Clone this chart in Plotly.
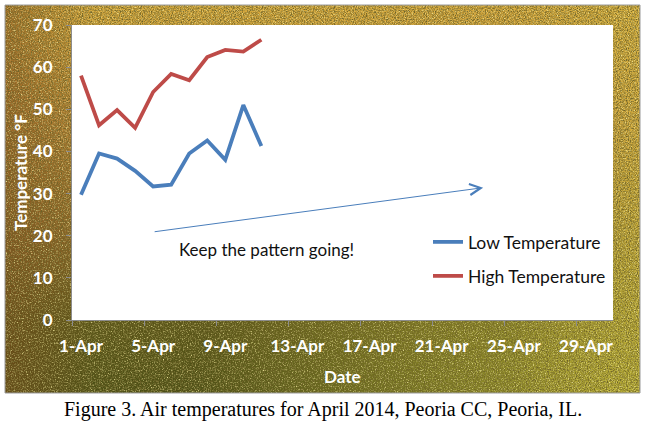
import base64
import plotly.graph_objects as go

# ── data ──────────────────────────────────────────────────────────
days = list(range(11))            # 0 = 1-Apr ... 10 = 11-Apr
low_temp = [29.7, 39.5, 38.3, 35.4, 31.7, 32.1, 39.5, 42.6, 38.0, 51.0, 41.3]
high_temp = [58.0, 46.2, 49.8, 45.6, 54.1, 58.4, 56.9, 62.4, 64.1, 63.7, 66.5]
tick_days = [0, 4, 8, 12, 16, 20, 24, 28]
tick_text = ["1-Apr", "5-Apr", "9-Apr", "13-Apr", "17-Apr", "21-Apr", "25-Apr", "29-Apr"]

BLUE = "#4a7ebb"
RED = "#be4b48"
GRAY = "#8c8c8c"
FONT = "Lato"

# ── grassy background as an svg picture ──────────────────────────
svg = """<svg xmlns='http://www.w3.org/2000/svg' width='636' height='388'>
<defs>
<linearGradient id='v' x1='0' y1='0' x2='0' y2='1'>
<stop offset='0' stop-color='#d8aa3c'/>
<stop offset='0.3' stop-color='#bc8a36'/>
<stop offset='0.6' stop-color='#8e6a28'/>
<stop offset='0.82' stop-color='#585416'/>
<stop offset='1' stop-color='#4a4e14'/>
</linearGradient>
<linearGradient id='lft' x1='0' y1='0' x2='1' y2='0'>
<stop offset='0' stop-color='#7a4418' stop-opacity='0.55'/>
<stop offset='0.14' stop-color='#7a4418' stop-opacity='0'/>
</linearGradient>
<linearGradient id='rgt' x1='0' y1='0' x2='1' y2='0'>
<stop offset='0.8' stop-color='#d8b23e' stop-opacity='0'/>
<stop offset='1' stop-color='#d8b23e' stop-opacity='0.85'/>
</linearGradient>
<radialGradient id='br' cx='1' cy='1' r='0.7'>
<stop offset='0' stop-color='#b8b034' stop-opacity='0.9'/>
<stop offset='1' stop-color='#b8b034' stop-opacity='0'/>
</radialGradient>
<filter id='n' x='0' y='0' width='100%' height='100%'>
<feTurbulence type='fractalNoise' baseFrequency='0.9' numOctaves='2' seed='4'/>
<feColorMatrix type='matrix' values='0 0 0 0 0.15  0 0 0 0 0.12  0 0 0 0 0.02  2.2 0 0 0 -0.8'/></filter>
<filter id='l' x='0' y='0' width='100%' height='100%'>
<feTurbulence type='fractalNoise' baseFrequency='0.75' numOctaves='2' seed='9'/>
<feColorMatrix type='matrix' values='0 0 0 0 0.92  0 0 0 0 0.85  0 0 0 0 0.35  0 2.2 0 0 -1.05'/></filter>
</defs>
<rect width='636' height='388' fill='url(#v)'/>
<rect width='636' height='388' fill='url(#lft)'/>
<rect width='636' height='388' fill='url(#rgt)'/>
<rect width='636' height='388' fill='url(#br)'/>
<rect width='636' height='388' filter='url(#l)'/>
<rect width='636' height='388' filter='url(#n)'/>
</svg>"""
bg_src = "data:image/svg+xml;base64," + base64.b64encode(svg.encode()).decode()

# plot area in pixels: x 72..613, y 25..320
L, R, T, B = 72, 613, 25, 320
W, H = R - L, B - T


def px(x):
    return (x - L) / W


def py(y):
    return (B - y) / H


fig = go.Figure()
fig.add_trace(go.Scatter(x=days, y=low_temp, mode="lines", name="Low Temperature",
                         line=dict(color=BLUE, width=3.8), legend="legend"))
fig.add_trace(go.Scatter(x=days, y=high_temp, mode="lines", name="High Temperature",
                         line=dict(color=RED, width=3.8), legend="legend2"))

leg_common = dict(font=dict(family=FONT, size=17.5, color="#111111"),
                  bgcolor="rgba(0,0,0,0)", xanchor="left", yanchor="middle",
                  itemwidth=30)

fig.update_layout(
    width=646, height=424,
    margin=dict(l=L, r=646 - R, t=T, b=424 - B),
    paper_bgcolor="white",
    plot_bgcolor="rgba(0,0,0,0)",
    showlegend=True,
    legend=dict(x=px(428), y=py(242), **leg_common),
    legend2=dict(x=px(428), y=py(276), **leg_common),
    xaxis=dict(range=[-0.5, 29.5], tickvals=tick_days, ticktext=tick_text,
               ticks="", showgrid=False, zeroline=False,
               showline=True, linecolor=GRAY, linewidth=1,
               tickfont=dict(family=FONT, size=17, color="white", weight="bold"),
               ticklabelstandoff=11,
               minor=dict(ticks="outside", tick0=-0.5, dtick=4, ticklen=5,
                          tickcolor=GRAY, showgrid=False)),
    yaxis=dict(range=[0, 70], dtick=10, ticks="outside", ticklen=5, tickcolor=GRAY,
               showgrid=False, zeroline=False,
               showline=True, linecolor=GRAY, linewidth=1,
               tickfont=dict(family=FONT, size=17, color="white", weight="bold"),
               ticklabelstandoff=10),
    images=[dict(source=bg_src, xref="paper", yref="paper",
                 x=px(5), y=py(5), sizex=(640 - 5) / W, sizey=(393 - 5) / H,
                 xanchor="left", yanchor="top", sizing="stretch", layer="below")],
    shapes=[
        dict(type="rect", xref="paper", yref="paper", x0=0, x1=1, y0=0, y1=1,
             fillcolor="white", line=dict(width=0), layer="below"),
        dict(type="rect", xref="paper", yref="paper", x0=px(5), x1=px(640),
             y0=py(393), y1=py(5), line=dict(color="#9a9a9a", width=1), layer="below"),
    ],
)

# axis titles, note, arrow, caption
fig.add_annotation(text="<b>Temperature °F</b>", xref="paper", yref="paper",
                   x=px(20), y=py(173), textangle=-90, showarrow=False,
                   xanchor="center", yanchor="middle",
                   font=dict(family=FONT, size=17, color="white"))
fig.add_annotation(text="<b>Date</b>", xref="paper", yref="paper",
                   x=px(342), y=py(376), showarrow=False,
                   xanchor="center", yanchor="middle",
                   font=dict(family=FONT, size=17, color="white"))
fig.add_annotation(text="Keep the pattern going!", x=10.28, y=16.8, showarrow=False,
                   font=dict(family=FONT, size=17, color="#111111"))
fig.add_annotation(x=22.3, y=31.4, ax=4.0, ay=20.9, axref="x", ayref="y", text="",
                   showarrow=True, arrowhead=5, arrowsize=2.2, arrowwidth=1,
                   arrowcolor=BLUE, standoff=0)
fig.add_annotation(text="Figure 3. Air temperatures for April 2014, Peoria CC, Peoria, IL.",
                   xref="paper", yref="paper", x=px(323), y=py(409), showarrow=False,
                   xanchor="center", yanchor="middle",
                   font=dict(family="Liberation Serif", size=20, color="black"))

fig.write_html("out.html", config={"displayModeBar": False},
               post_script="document.body.style.margin='0';")
